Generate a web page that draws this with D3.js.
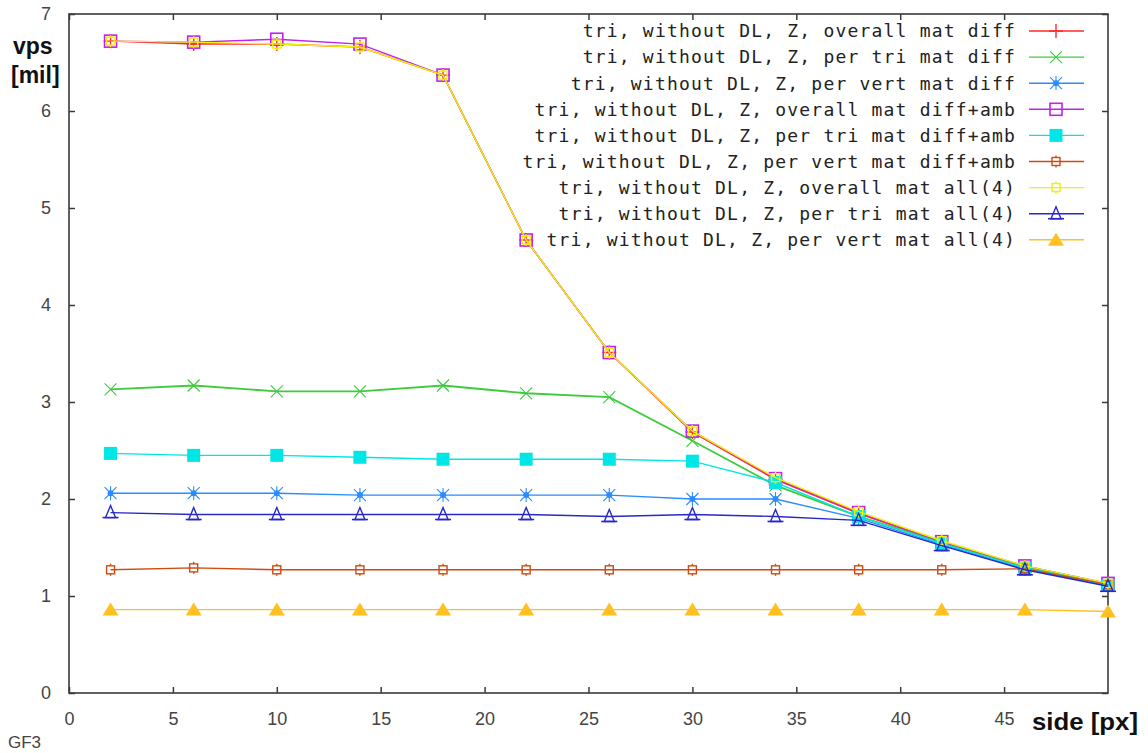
<!DOCTYPE html>
<html>
<head>
<meta charset="utf-8">
<script src="https://cdn.jsdelivr.net/npm/d3@7"></script>
<style>
  html, body { margin: 0; padding: 0; background: #fff; }
  svg { display: block; }
</style>
</head>
<body>
<svg id="chart" width="1148" height="753"></svg>
<script>
// ---- data ----
const sides = [2, 6, 10, 14, 18, 22, 26, 30, 34, 38, 42, 46, 50];
const xTicks = [0, 5, 10, 15, 20, 25, 30, 35, 40, 45];
const yTicks = [0, 1, 2, 3, 4, 5, 6, 7];

const seriesNames = [
  "tri, without DL, Z, overall mat diff",
  "tri, without DL, Z, per tri mat diff",
  "tri, without DL, Z, per vert mat diff",
  "tri, without DL, Z, overall mat diff+amb",
  "tri, without DL, Z, per tri mat diff+amb",
  "tri, without DL, Z, per vert mat diff+amb",
  "tri, without DL, Z, overall mat all(4)",
  "tri, without DL, Z, per tri mat all(4)",
  "tri, without DL, Z, per vert mat all(4)"
];
const overallMatDiff     = [6.72, 6.69, 6.69, 6.66, 6.37, 4.67, 3.51, 2.69, 2.20, 1.85, 1.55, 1.30, 1.12];
const perTriMatDiff      = [3.13, 3.17, 3.11, 3.11, 3.17, 3.09, 3.05, 2.60, 2.14, 1.82, 1.55, 1.30, 1.12];
const perVertMatDiff     = [2.06, 2.06, 2.06, 2.04, 2.04, 2.04, 2.04, 2.00, 2.00, 1.80, 1.53, 1.28, 1.11];
const overallMatDiffAmb  = [6.72, 6.71, 6.74, 6.69, 6.37, 4.67, 3.51, 2.70, 2.21, 1.86, 1.56, 1.31, 1.13];
const perTriMatDiffAmb   = [2.47, 2.45, 2.45, 2.43, 2.41, 2.41, 2.41, 2.39, 2.17, 1.82, 1.54, 1.29, 1.11];
const perVertMatDiffAmb  = [1.27, 1.29, 1.27, 1.27, 1.27, 1.27, 1.27, 1.27, 1.27, 1.27, 1.27, 1.28, 1.12];
const overallMatAll4     = [6.72, 6.71, 6.69, 6.66, 6.37, 4.67, 3.51, 2.70, 2.22, 1.87, 1.57, 1.31, 1.13];
const perTriMatAll4      = [1.86, 1.84, 1.84, 1.84, 1.84, 1.84, 1.82, 1.84, 1.82, 1.78, 1.52, 1.27, 1.10];
const perVertMatAll4     = [0.86, 0.86, 0.86, 0.86, 0.86, 0.86, 0.86, 0.86, 0.86, 0.86, 0.86, 0.86, 0.84];

const seriesValues = [overallMatDiff, perTriMatDiff, perVertMatDiff, overallMatDiffAmb,
  perTriMatDiffAmb, perVertMatDiffAmb, overallMatAll4, perTriMatAll4, perVertMatAll4];
const seriesColors = ["#ff2a2a", "#3ccc3c", "#2a8cff", "#c020f0", "#00e6e6",
  "#d04a10", "#f0f000", "#2828c8", "#ffc020"];
const seriesMarkers = ["plus", "cross", "star", "openSquare", "filledSquare",
  "smallBox", "smallBoxY", "openTri", "filledTri"];

// ---- layout ----
const svg = d3.select("#chart");
const pLeft = 69, pRight = 1108, pTop = 14, pBottom = 693;
const x = d3.scaleLinear().domain([0, 50]).range([pLeft, pRight]);
const y = d3.scaleLinear().domain([0, 7]).range([pBottom, pTop]);

const axisColor = "#3a3a3a";
const tickFont = "'Liberation Sans Narrow', 'Liberation Sans', 'DejaVu Sans', sans-serif";

// axes (inward ticks, mirrored)
const gB = svg.append("g").attr("transform", `translate(0,${pBottom})`)
  .call(d3.axisBottom(x).tickValues(xTicks).tickFormat(d3.format("d")).tickSizeInner(-6).tickSizeOuter(0).tickPadding(26));
const gT = svg.append("g").attr("transform", `translate(0,${pTop})`)
  .call(d3.axisTop(x).tickValues(xTicks).tickSizeInner(-6).tickSizeOuter(0).tickFormat(""));
const gL = svg.append("g").attr("transform", `translate(${pLeft},0)`)
  .call(d3.axisLeft(y).tickValues(yTicks).tickFormat(d3.format("d")).tickSizeInner(-6).tickSizeOuter(0).tickPadding(18));
const gR = svg.append("g").attr("transform", `translate(${pRight},0)`)
  .call(d3.axisRight(y).tickValues(yTicks).tickSizeInner(-6).tickSizeOuter(0).tickFormat(""));

[gB, gT, gL, gR].forEach(g => {
  g.select(".domain").remove();
  g.selectAll(".tick line").attr("stroke", axisColor).attr("stroke-width", 1.5);
  g.selectAll(".tick text").attr("fill", "#444").attr("font-family", tickFont).attr("font-size", 18);
});
gB.selectAll(".tick text").attr("dy", "0.35em");

svg.append("rect").attr("x", pLeft).attr("y", pTop)
  .attr("width", pRight - pLeft).attr("height", pBottom - pTop)
  .attr("fill", "none").attr("stroke", axisColor).attr("stroke-width", 1.6);

// axis titles
const boldFont = "'Liberation Sans Narrow', 'Liberation Sans', 'DejaVu Sans', sans-serif";
svg.append("text").attr("x", 13).attr("y", 54).text("vps")
  .attr("font-family", boldFont).attr("font-weight", "bold").attr("font-size", 23).attr("fill", "#111");
svg.append("text").attr("x", 11).attr("y", 83).text("[mil]")
  .attr("font-family", boldFont).attr("font-weight", "bold").attr("font-size", 23).attr("fill", "#111");
svg.append("text").attr("x", 1138).attr("y", 730).attr("text-anchor", "end").text("side [px]")
  .attr("font-family", boldFont).attr("font-weight", "bold").attr("font-size", 24)
  .attr("textLength", 106).attr("lengthAdjust", "spacingAndGlyphs").attr("fill", "#111");
svg.append("text").attr("x", 8).attr("y", 748).text("GF3")
  .attr("font-family", "'Liberation Sans', sans-serif").attr("font-size", 17).attr("fill", "#444");

// markers
function drawMarker(g, type, cx, cy, color) {
  const s = g.append("g").attr("transform", `translate(${cx},${cy})`);
  const sw = 1.4;
  switch (type) {
    case "plus":
      s.append("path").attr("d", "M-7,0H7M0,-7V7").attr("stroke", color).attr("stroke-width", sw).attr("fill", "none");
      break;
    case "cross":
      s.append("path").attr("d", "M-6,-6L6,6M-6,6L6,-6").attr("stroke", color).attr("stroke-width", 1.1).attr("fill", "none");
      break;
    case "star":
      s.append("path").attr("d", "M-6,-6L6,6M-6,6L6,-6M0,-7V7").attr("stroke", color).attr("stroke-width", 1.1).attr("fill", "none");
      s.append("circle").attr("r", 3).attr("fill", color);
      break;
    case "openSquare":
      s.append("rect").attr("x", -6).attr("y", -6).attr("width", 12).attr("height", 12)
        .attr("stroke", color).attr("stroke-width", 1.6).attr("fill", "none");
      break;
    case "filledSquare":
      s.append("rect").attr("x", -6.5).attr("y", -6.5).attr("width", 13).attr("height", 13).attr("fill", color);
      break;
    case "smallBox":
    case "smallBoxY":
      s.append("rect").attr("x", -4).attr("y", -4).attr("width", 8).attr("height", 8)
        .attr("stroke", color).attr("stroke-width", 1.4).attr("fill", "none");
      s.append("path").attr("d", "M0,-6V-4M0,4V6").attr("stroke", color).attr("stroke-width", 1.4);
      break;
    case "openTri":
      s.append("path").attr("d", "M0,-7L5,5L-5,5Z").attr("stroke", color).attr("stroke-width", 1.4).attr("fill", "none");
      s.append("path").attr("d", "M-8,5H8").attr("stroke", color).attr("stroke-width", 1.6);
      break;
    case "filledTri":
      s.append("path").attr("d", "M0,-7L8,6L-8,6Z").attr("fill", color);
      break;
  }
}

const line = d3.line().x(d => x(d[0])).y(d => y(d[1]));
const plot = svg.append("g");
seriesValues.forEach((vals, i) => {
  const pts = sides.map((s, j) => [s, vals[j]]);
  plot.append("path").attr("d", line(pts)).attr("fill", "none")
    .attr("stroke", seriesColors[i]).attr("stroke-width", i === 1 ? 1.8 : 1.4);
  pts.forEach(p => drawMarker(plot, seriesMarkers[i], x(p[0]), y(p[1]), seriesColors[i]));
});

// legend
const legendFont = "'DejaVu Sans Mono', 'Liberation Mono', monospace";
const lg = svg.append("g");
seriesNames.forEach((name, i) => {
  const ly = 31 + i * 26.1;
  lg.append("text").attr("x", 1016).attr("y", ly).attr("dy", "0.35em")
    .attr("text-anchor", "end").attr("font-family", legendFont).attr("font-size", 18)
    .attr("letter-spacing", "1.2px").attr("fill", "#222").text(name);
  lg.append("line").attr("x1", 1029).attr("x2", 1084).attr("y1", ly).attr("y2", ly)
    .attr("stroke", seriesColors[i]).attr("stroke-width", 1.4);
  drawMarker(lg, seriesMarkers[i], 1056, ly, seriesColors[i]);
});
</script>
</body>
</html>
